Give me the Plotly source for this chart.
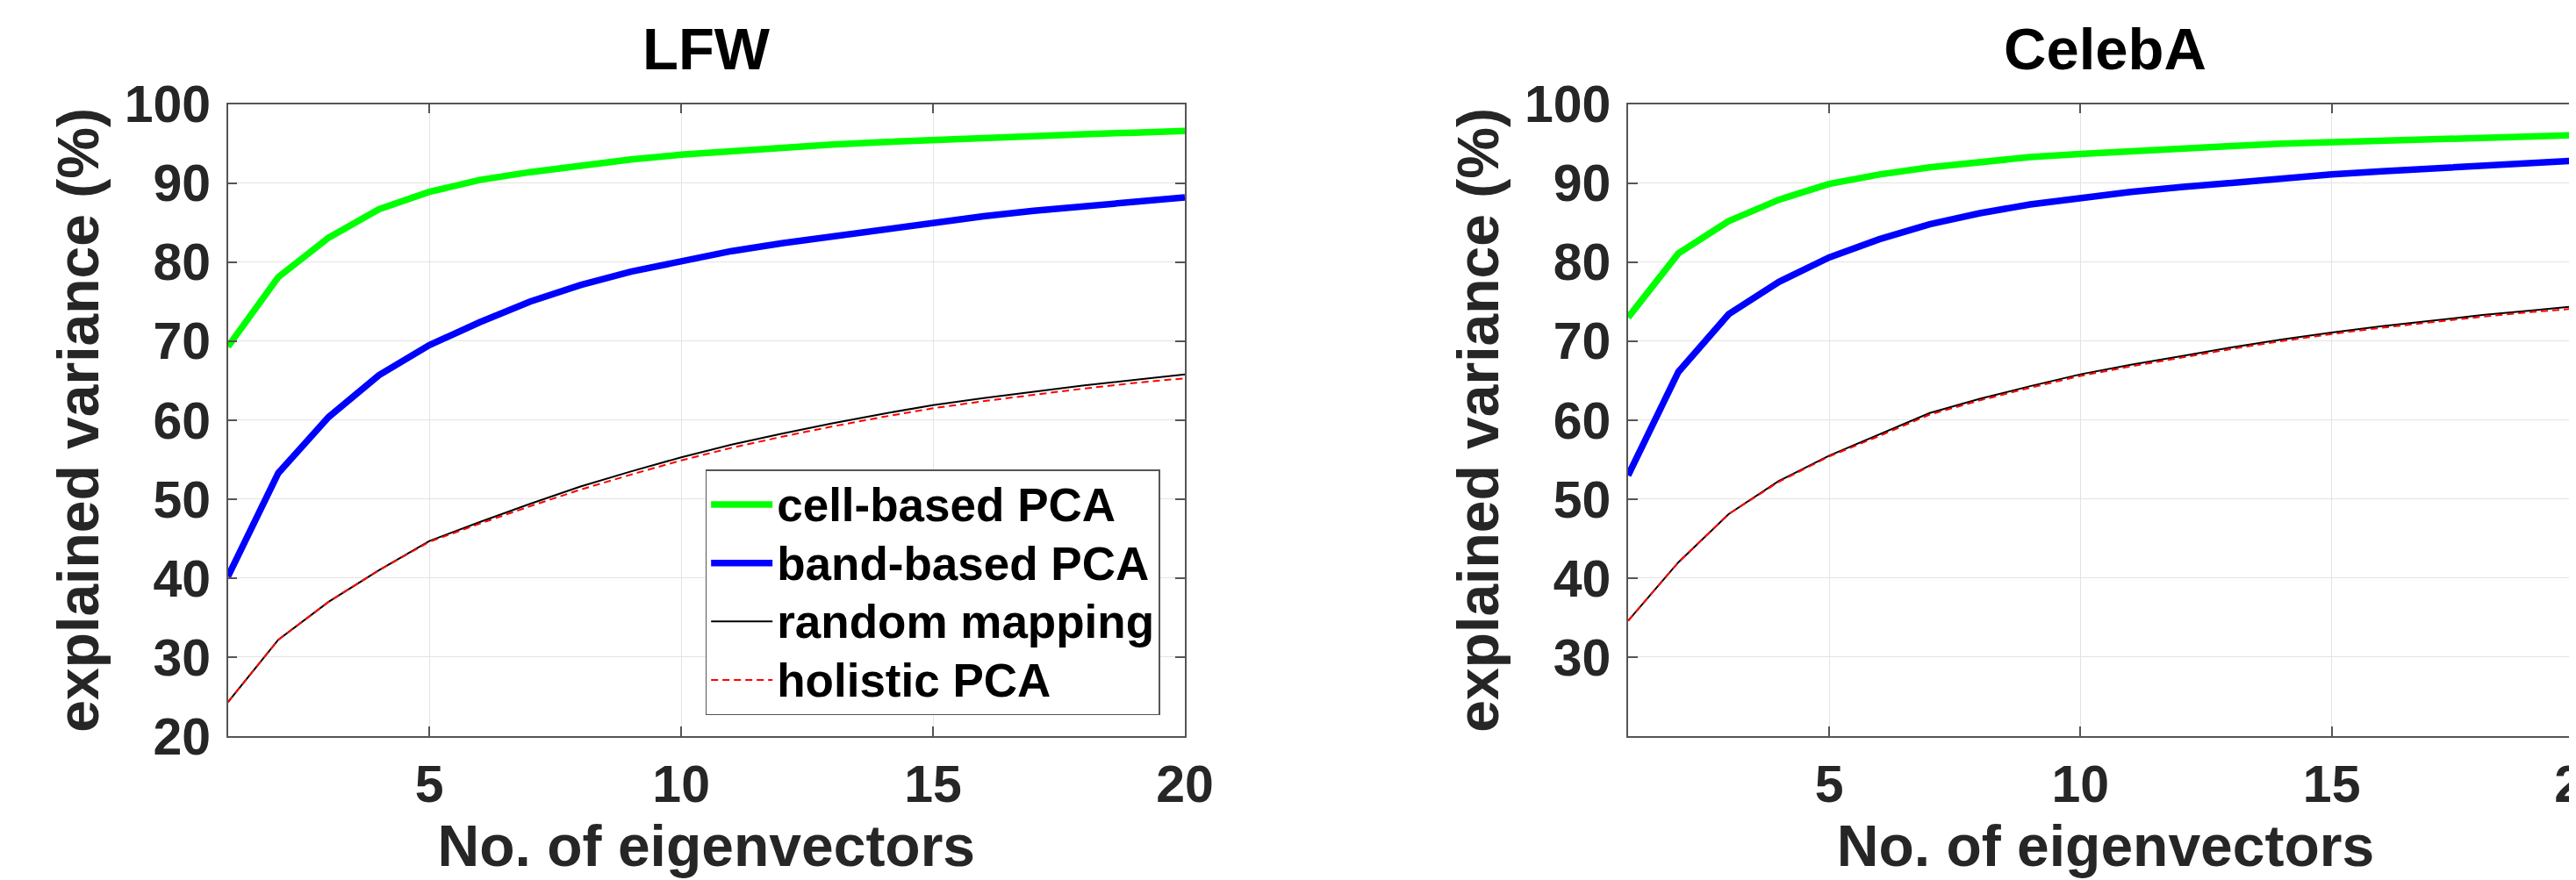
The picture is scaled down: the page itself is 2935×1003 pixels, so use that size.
import plotly.graph_objects as go

# ---------------- data ----------------
eigenvectors = list(range(1, 21))

lfw_cell = [69.3, 78.1, 83.1, 86.7, 88.9, 90.4, 91.4, 92.3, 93.0, 93.6,
            94.1, 94.5, 94.9, 95.2, 95.5, 95.8, 96.0, 96.2, 96.4, 96.6]
lfw_band = [40.2, 53.3, 60.4, 65.7, 69.5, 72.4, 75.0, 77.1, 78.8, 80.2,
            81.4, 82.4, 83.3, 84.2, 85.0, 85.8, 86.5, 87.1, 87.7, 88.2]
lfw_random = [24.3, 32.2, 37.0, 41.0, 44.7, 47.1, 49.4, 51.6, 53.5, 55.3,
              56.9, 58.3, 59.6, 60.8, 61.9, 62.8, 63.6, 64.4, 65.1, 65.8]
lfw_holistic = [24.3, 32.2, 37.0, 41.0, 44.6, 46.9, 49.1, 51.2, 53.1, 54.9,
                56.5, 57.9, 59.2, 60.4, 61.5, 62.4, 63.2, 64.0, 64.7, 65.3]

celeba_cell = [73.0, 81.1, 85.2, 87.9, 89.9, 91.1, 92.0, 92.7, 93.3, 93.7,
               94.1, 94.4, 94.7, 95.0, 95.2, 95.4, 95.6, 95.8, 96.0, 96.1]
celeba_band = [53.0, 66.1, 73.4, 77.5, 80.6, 82.9, 84.8, 86.2, 87.3, 88.2,
               88.9, 89.5, 90.1, 90.6, 91.1, 91.5, 91.9, 92.3, 92.6, 92.9]
celeba_random = [34.6, 42.0, 48.1, 52.3, 55.5, 58.2, 60.9, 62.7, 64.3, 65.8,
                 67.0, 68.1, 69.2, 70.2, 71.1, 71.9, 72.6, 73.3, 73.9, 74.5]
celeba_holistic = [34.6, 42.0, 48.1, 52.2, 55.4, 58.0, 60.7, 62.5, 64.1, 65.6,
                   66.8, 67.9, 69.0, 70.0, 70.9, 71.7, 72.4, 73.1, 73.7, 74.2]

series_names = ["cell-based PCA", "band-based PCA", "random mapping", "holistic PCA"]
panel_titles = ["LFW", "CelebA"]
x_ticks = [5, 10, 15, 20]
y_ticks_left = [20, 30, 40, 50, 60, 70, 80, 90, 100]
y_ticks_right = [30, 40, 50, 60, 70, 80, 90, 100]

# ---------------- styles ----------------
FONT = "Liberation Sans, Arial, sans-serif"
styles = [
    dict(color="#00ff00", width=7.5, dash="solid"),
    dict(color="#0000ff", width=7.5, dash="solid"),
    dict(color="#000000", width=2, dash="solid"),
    dict(color="#ff0000", width=2, dash="8px,5px"),
]

fig = go.Figure()

panels = [
    ("x", "y", [lfw_cell, lfw_band, lfw_random, lfw_holistic]),
    ("x2", "y2", [celeba_cell, celeba_band, celeba_random, celeba_holistic]),
]
for pi, (xa, ya, data) in enumerate(panels):
    for si, vals in enumerate(data):
        fig.add_trace(go.Scatter(
            x=eigenvectors, y=vals, mode="lines",
            name='<span style="font-size:53px">%s</span>' % series_names[si],
            line=styles[si],
            xaxis=xa, yaxis=ya, showlegend=(pi == 0),
        ))

axis_common = dict(
    showline=True, linecolor="#555555", linewidth=1.5, mirror="ticks",
    ticks="inside", ticklen=11, tickwidth=1.5, tickcolor="#555555",
    showgrid=True, gridcolor="#e3e3e3", gridwidth=1.2, zeroline=False,
    automargin=False,
    tickfont=dict(family=FONT, size=59, color="#262626", weight="bold"),
)
title_font = dict(family=FONT, size=66, color="#262626", weight="bold")

xcommon = dict(range=[1, 20], tickvals=x_ticks, ticklabelstandoff=2,
               ticklabeloverflow="allow",
               title=dict(text="No. of eigenvectors", font=title_font, standoff=10))
ycommon = dict(domain=[0.1715, 0.8896], range=[20, 100], ticklabelstandoff=6,
               title=dict(text="explained variance (%)", font=title_font, standoff=8))

fig.update_layout(
    width=2935, height=1003,
    margin=dict(l=0, r=0, t=0, b=0, autoexpand=False),
    paper_bgcolor="white", plot_bgcolor="white",
    xaxis=dict(domain=[0.08576, 0.45724], anchor="y", **xcommon, **axis_common),
    yaxis=dict(tickvals=y_ticks_left, anchor="x", **ycommon, **axis_common),
    xaxis2=dict(domain=[0.6293, 1.0], anchor="y2", **xcommon, **axis_common),
    yaxis2=dict(tickvals=y_ticks_right, anchor="x2", **ycommon, **axis_common),
    legend=dict(
        x=0.2711, y=0.4745, xanchor="left", yanchor="top",
        bgcolor="white", bordercolor="#555555", borderwidth=1.5,
        font=dict(family=FONT, size=49, color="black", weight="bold"),
        itemwidth=70, tracegroupgap=0,
    ),
    showlegend=True,
)

for i, t in enumerate(panel_titles):
    xref = "x domain" if i == 0 else "x2 domain"
    yref = "y domain" if i == 0 else "y2 domain"
    fig.add_annotation(
        text=t, xref=xref, yref=yref, x=0.5, y=1, xanchor="center",
        yanchor="bottom", yshift=24, showarrow=False,
        font=dict(family=FONT, size=67, color="black", weight="bold"),
    )

fig.write_html("out.html")
